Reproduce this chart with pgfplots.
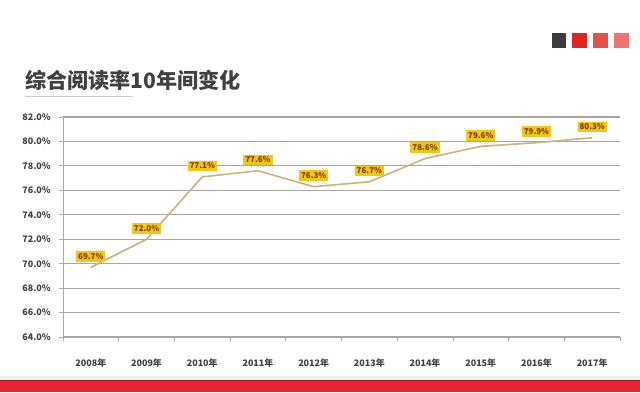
\documentclass[border=0pt]{standalone}
\usepackage{fontspec}
\newfontfamily\cjk{Noto Sans CJK SC}
\usepackage{pgfplots}
\pgfplotsset{compat=1.18}
\definecolor{txt}{HTML}{404040}
\definecolor{gridc}{HTML}{A6A6A6}
\definecolor{linec}{HTML}{C9B27C}
\definecolor{lblfill}{HTML}{F2C618}
\definecolor{lbltxt}{HTML}{7A3A00}
\definecolor{redbar}{HTML}{E5282F}
\definecolor{sqA}{HTML}{3D3D3D}
\definecolor{sqB}{HTML}{E02424}
\definecolor{sqC}{HTML}{E8504E}
\definecolor{sqD}{HTML}{F07272}
\begin{document}
\begin{tikzpicture}[x=1bp,y=1bp]
\path[use as bounding box, fill=white] (0,0) rectangle (640,392);
% bottom red band
\fill[black!6] (0,12) rectangle (640,16);
\fill[redbar] (0,0) rectangle (640,12);
\draw[redbar!65!black, line width=1bp] (0,12) -- (640,12);
% squares
\fill[sqA] (552,344) rectangle (566,359);
\fill[sqB] (572,344) rectangle (587,359);
\fill[sqC] (593,344) rectangle (608,359);
\fill[sqD] (614,344) rectangle (629,359);
% title
\node[anchor=base west, inner sep=0pt, text=txt, font=\cjk\bfseries\fontsize{21.2}{22}\selectfont] at (25,304) {综合阅读率10年间变化};
\draw[black!20, line width=0.8bp] (25,296) -- (133,296);
\begin{axis}[
  at={(63bp,55bp)}, anchor=south west,
  scale only axis, width=557bp, height=220bp,
  xmin=-0.5, xmax=9.5, ymin=64, ymax=82,
  axis lines=left,
  axis line style={gridc, line width=1bp, -},
  ytick={64,66,...,82},
  ymajorgrids,
  grid style={gridc, line width=1.2bp},
  xtick={0,...,9},
  xticklabels={2008年,2009年,2010年,2011年,2012年,2013年,2014年,2015年,2016年,2017年},
  minor xtick={-0.5,0.5,...,9.5},
  major x tick style={draw=none},
  tick align=outside,
  major tick length=4bp, minor tick length=4bp,
  tick style={gridc, line width=0.8bp},
  /pgf/number format/assume math mode=true,
  yticklabel={\pgfmathprintnumber[fixed,fixed zerofill,precision=1]{\tick}\%},
  ticklabel style={font=\cjk\bfseries\fontsize{9}{10}\selectfont, text=txt},
  yticklabel style={anchor=east, inner sep=0pt, xshift=-8bp},
  xticklabel style={anchor=center, inner sep=0pt, yshift=-22bp},
  clip=false,
]
\addplot[linec, line width=1.6bp, no markers,
  nodes near coords={\pgfmathprintnumber[fixed,fixed zerofill,precision=1]{\pgfplotspointmeta}\%},
  every node near coord/.append style={font=\cjk\bfseries\fontsize{8}{9}\selectfont, text=lbltxt, fill=lblfill, inner xsep=2bp, inner ysep=2.2bp, anchor=center, yshift=11bp},
] coordinates {
(0,69.7) (1,72.0) (2,77.1) (3,77.6) (4,76.3) (5,76.7) (6,78.6) (7,79.6) (8,79.9) (9,80.3)
};
\end{axis}
\end{tikzpicture}
\end{document}
